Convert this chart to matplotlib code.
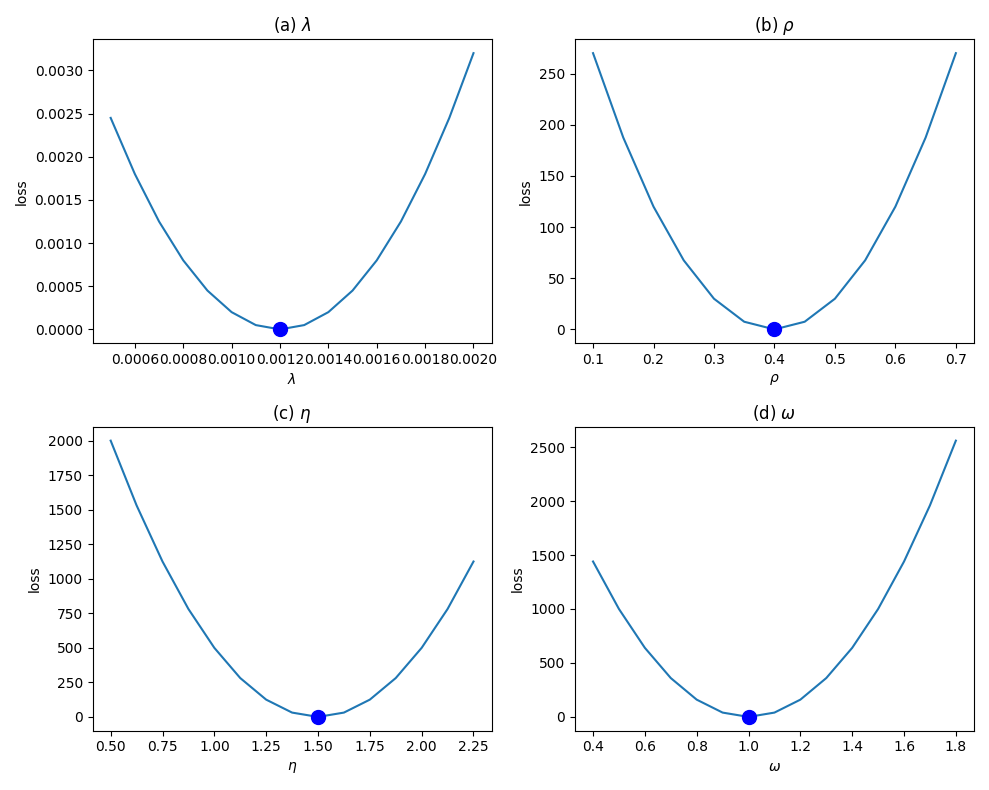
import matplotlib
matplotlib.use("Agg")
import matplotlib.pyplot as plt

# values
lam_x = [0.0005, 0.0006, 0.0007, 0.0008, 0.0009, 0.0010, 0.0011, 0.0012,
         0.0013, 0.0014, 0.0015, 0.0016, 0.0017, 0.0018, 0.0019, 0.0020]
lam_loss = [0.00245, 0.0018, 0.00125, 0.0008, 0.00045, 0.0002, 0.00005, 0.0,
            0.00005, 0.0002, 0.00045, 0.0008, 0.00125, 0.0018, 0.00245, 0.0032]
lam_best = (0.0012, 0.0)

rho_x = [0.1, 0.15, 0.2, 0.25, 0.3, 0.35, 0.4, 0.45, 0.5, 0.55, 0.6, 0.65, 0.7]
rho_loss = [270, 187.5, 120, 67.5, 30, 7.5, 0, 7.5, 30, 67.5, 120, 187.5, 270]
rho_best = (0.4, 0.0)

eta_x = [0.5, 0.625, 0.75, 0.875, 1.0, 1.125, 1.25, 1.375, 1.5,
         1.625, 1.75, 1.875, 2.0, 2.125, 2.25]
eta_loss = [2000, 1531.25, 1125, 781.25, 500, 281.25, 125, 31.25, 0,
            31.25, 125, 281.25, 500, 781.25, 1125]
eta_best = (1.5, 0.0)

omega_x = [0.4, 0.5, 0.6, 0.7, 0.8, 0.9, 1.0, 1.1, 1.2, 1.3, 1.4, 1.5, 1.6, 1.7, 1.8]
omega_loss = [1440, 1000, 640, 360, 160, 40, 0, 40, 160, 360, 640, 1000, 1440, 1960, 2560]
omega_best = (1.0, 0.0)

panels = [
    ("(a) $\\lambda$", "$\\lambda$", lam_x, lam_loss, lam_best),
    ("(b) $\\rho$", "$\\rho$", rho_x, rho_loss, rho_best),
    ("(c) $\\eta$", "$\\eta$", eta_x, eta_loss, eta_best),
    ("(d) $\\omega$", "$\\omega$", omega_x, omega_loss, omega_best),
]

fig, axes = plt.subplots(2, 2, figsize=(9.89, 7.9), dpi=100)
for ax, (title, xlabel, xs, ys, best) in zip(axes.flat, panels):
    ax.plot(xs, ys, color="tab:blue")
    ax.scatter([best[0]], [best[1]], color="blue", s=100, zorder=3)
    ax.set_title(title)
    ax.set_xlabel(xlabel)
    ax.set_ylabel("loss")

plt.tight_layout()
plt.savefig("out.png")
